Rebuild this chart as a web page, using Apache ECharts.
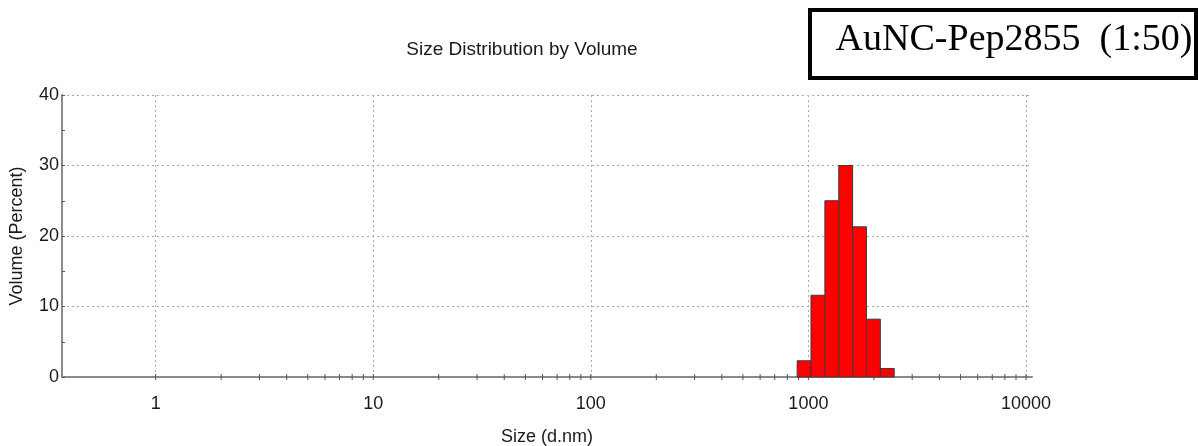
<!DOCTYPE html>
<html>
<head>
<meta charset="utf-8">
<title>Size Distribution by Volume</title>
<script src="https://cdn.jsdelivr.net/npm/echarts@6/dist/echarts.min.js"></script>
<style>
  html, body { margin: 0; padding: 0; background: #fff; }
  #chart { width: 1198px; height: 446px; }
</style>
</head>
<body>
<div id="chart"></div>
<script>
// Size classes (bin centres, d.nm) and the volume percentage in each class
const sizes = [955.4, 1106, 1281, 1484, 1718, 1990, 2305];
const volumes = [2.3, 11.6, 25.0, 30.0, 21.3, 8.2, 1.2];

// Axis ticks
const decadeTicks = [1, 10, 100, 1000, 10000];
const minorSteps = [2, 3, 4, 5, 6, 7, 8, 9];
const yTicks = [0, 10, 20, 30, 40];

const sampleName = 'AuNC-Pep2855  (1:50)';
const chartTitle = 'Size Distribution by Volume';

// Each bar spans one logarithmic size class
const halfBin = Math.sqrt(sizes[1] / sizes[0]);
const barData = sizes.map((s, i) => [s, volumes[i]]);

// Tick positions along the size axis: decades plus 2..9 within each decade
const tickData = [];
decadeTicks.forEach(d => tickData.push([d, 0]));
decadeTicks.slice(0, -1).forEach(d => minorSteps.forEach(m => tickData.push([d * m, 0])));

const sans = 'Liberation Sans, Arial, sans-serif';
const textColor = '#1a1a1a';
const axisGray = '#8a8a8a';
const gridGray = '#a8a8a8';

const chart = echarts.init(document.getElementById('chart'), null, { renderer: 'canvas' });

chart.setOption({
  animation: false,
  backgroundColor: '#ffffff',
  title: {
    text: chartTitle,
    left: 517, top: 35,
    textAlign: 'center',
    textStyle: { fontFamily: sans, fontSize: 19, fontWeight: 'normal', color: textColor }
  },
  grid: {
    left: 62, right: 166, top: 95, bottom: 69,
    containLabel: false,
    outerBoundsMode: 'none'
  },
  xAxis: {
    type: 'log',
    logBase: 10,
    min: 0.371,
    max: 10660,
    name: 'Size (d.nm)',
    nameLocation: 'middle',
    nameGap: 51,
    nameTextStyle: { fontFamily: sans, fontSize: 18, color: textColor },
    axisLine: { show: true, lineStyle: { color: axisGray, width: 2 } },
    axisTick: { show: false },
    axisLabel: {
      fontFamily: sans, fontSize: 18, color: textColor, margin: 18,
      showMinLabel: false, showMaxLabel: false,
      formatter: v => String(Math.round(v))
    },
    splitLine: {
      show: true, showMinLine: false, showMaxLine: false,
      lineStyle: { color: gridGray, type: [2, 3], width: 1 }
    }
  },
  yAxis: {
    type: 'value',
    min: yTicks[0],
    max: yTicks[yTicks.length - 1],
    interval: 10,
    name: 'Volume (Percent)',
    nameLocation: 'middle',
    nameRotate: 90,
    nameGap: 36,
    nameTextStyle: { fontFamily: sans, fontSize: 18, color: textColor },
    axisLine: { show: true, lineStyle: { color: axisGray, width: 2 } },
    axisTick: { show: true, inside: true, length: 3, lineStyle: { color: '#555' } },
    minorTick: { show: true, splitNumber: 2, length: 3, lineStyle: { color: '#555' } },
    axisLabel: { fontFamily: sans, fontSize: 18, color: textColor, margin: 3 },
    splitLine: {
      show: true, showMinLine: false,
      lineStyle: { color: gridGray, type: [2, 3], width: 1 }
    }
  },
  series: [
    {
      type: 'custom',
      name: 'ticks',
      data: tickData,
      encode: { x: 0, y: 1 },
      z: 3,
      silent: true,
      renderItem: (params, api) => {
        const p = api.coord([api.value(0), 0]);
        return {
          type: 'line',
          shape: { x1: p[0], y1: p[1] - 3, x2: p[0], y2: p[1] + 3 },
          style: { stroke: '#555', lineWidth: 1 }
        };
      }
    },
    {
      type: 'custom',
      name: 'Volume',
      data: barData,
      encode: { x: 0, y: 1 },
      z: 4,
      renderItem: (params, api) => {
        const s = api.value(0);
        const v = api.value(1);
        const topLeft = api.coord([s / halfBin, v]);
        const bottomRight = api.coord([s * halfBin, 0]);
        return {
          type: 'rect',
          shape: {
            x: topLeft[0], y: topLeft[1],
            width: bottomRight[0] - topLeft[0],
            height: bottomRight[1] - topLeft[1]
          },
          style: { fill: '#ff0000', stroke: '#3a3a3a', lineWidth: 1 }
        };
      }
    }
  ],
  graphic: [
    {
      type: 'rect',
      shape: { x: 810, y: 10, width: 386, height: 68 },
      style: { fill: '#ffffff', stroke: '#000000', lineWidth: 4 },
      z: 10
    },
    {
      type: 'text',
      x: 1014, y: 40,
      style: {
        text: sampleName,
        font: '38px "Liberation Serif", "Times New Roman", serif',
        fill: '#000000',
        align: 'center',
        verticalAlign: 'middle'
      },
      z: 11
    }
  ]
});
</script>
</body>
</html>
